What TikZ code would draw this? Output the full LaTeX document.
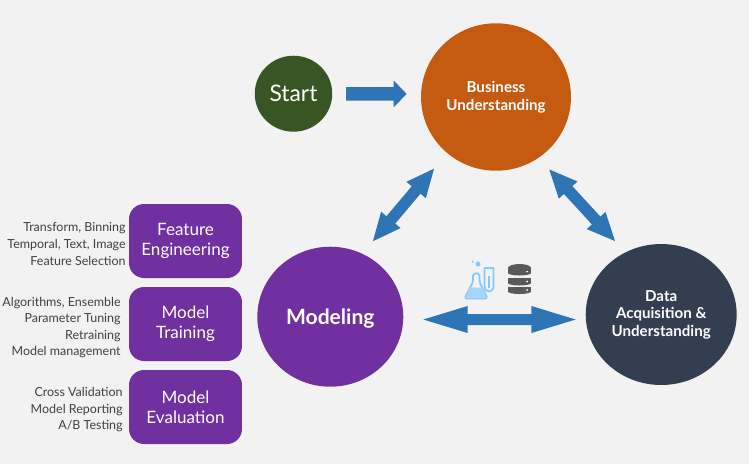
\documentclass[tikz,border=0pt]{standalone}
\usepackage{fontspec}
\setmainfont{Lato}
\usetikzlibrary{arrows.meta,shapes.geometric}
\definecolor{bggrey}{HTML}{F2F2F2}
\definecolor{startgreen}{HTML}{375623}
\definecolor{bizorange}{HTML}{C55A11}
\definecolor{modelpurple}{HTML}{7030A0}
\definecolor{dataslate}{HTML}{333F50}
\definecolor{arrowblue}{HTML}{2E75B6}
\definecolor{flaskblue}{HTML}{85C8FA}
\definecolor{dbgrey}{HTML}{595959}
\definecolor{notegrey}{HTML}{404040}
\tikzset{
  ball/.style={ellipse, inner sep=0pt, text=white, align=center},
  stepbox/.style={rounded corners=0.3cm, fill=modelpurple, minimum width=2.26cm, minimum height=1.48cm, inner sep=0pt, text=white, align=center, font=\fontsize{9.7}{11.3}\selectfont},
  note/.style={anchor=east, inner sep=0pt, align=right, text=notegrey, font=\fontsize{7.1}{9.4}\selectfont},
  flow/.style={arrowblue, line width=0.27cm, -{Triangle[length=0.26cm, width=0.52cm]}},
  both/.style={arrowblue, line width=0.22cm, {Triangle[length=1cm, width=0.46cm]}-{Triangle[length=1cm, width=0.46cm]}},
  slant/.style={arrowblue, line width=0.23cm, {Triangle[length=0.58cm, width=0.46cm]}-{Triangle[length=0.58cm, width=0.46cm]}},
}
\begin{document}
\begin{tikzpicture}[x=0.02cm, y=-0.02cm]
      \fill[bggrey] (0,0) rectangle (749,464);
      \useasboundingbox (0,0) rectangle (749,464);

      \node[ball, fill=startgreen, minimum width=1.55cm, minimum height=1.52cm, font=\fontsize{13}{14}\selectfont] (start) at (293.5,93.7) {Start};
      \node[ball, fill=bizorange, minimum width=3cm, minimum height=2.95cm, font=\bfseries\fontsize{8.6}{10.2}\selectfont] (business) at (496,97) {Business\\Understanding};
      \node[ball, fill=modelpurple, minimum width=2.92cm, minimum height=2.8cm, text depth=0pt, font=\bfseries\fontsize{12}{14}\selectfont] (modeling) at (330.3,316.7) {Modeling};
      \node[ball, fill=dataslate, minimum width=3.02cm, minimum height=2.82cm, font=\bfseries\fontsize{8.6}{9.9}\selectfont] (data) at (661.2,314.5) {Data\\Acquisition \&\\Understanding};

      \node[stepbox] (feature) at (185.5,241) {Feature\\Engineering};
      \node[stepbox] (training) at (185.5,324) {Model\\Training};
      \node[stepbox] (evaluation) at (185.5,407) {Model\\Evaluation};

      \node[note] (featurenote) at (126,244) {Transform, Binning\\Temporal, Text, Image\\Feature Selection};
      \node[note] (trainingnote) at (121,327.5) {Algorithms, Ensemble\\Parameter Tuning\\Retraining\\Model management};
      \node[note] (evaluationnote) at (123,410) {Cross Validation\\Model Reporting\\A/B Testing};

      \draw[flow, shorten <=0.27cm, shorten >=0.28cm] (start.east) -- ([yshift=0.06cm]business.west);
      \draw[slant, shorten <=0.38cm, shorten >=0.3cm] (business.229.3) -- (modeling.63.1);
      \draw[slant, shorten <=0.29cm, shorten >=0.28cm] (business.-55.2) -- (data.120.5);
      \draw[both, shorten <=0.28cm, shorten >=0.08cm] ([yshift=-0.056cm]modeling.east) -- ([yshift=-0.1cm]data.west);

      % flask and tube
      \draw[flaskblue, line width=1pt, line join=round, fill=bggrey] (484.5,268) -- (493.5,268) -- (493.5,287) arc[start angle=0, end angle=-180, radius=0.09cm] -- cycle;
      \fill[flaskblue] (488,276) rectangle (490,288);
      \draw[flaskblue, line width=1pt, line join=round, rounded corners=1pt, fill=bggrey] (473,273.5) -- (479.5,273.5) -- (479.5,282) -- (487.5,298.5) -- (464.5,298.5) -- (473,282) -- cycle;
      \fill[flaskblue!75] (469.5,287.5) -- (483,287.5) -- (486,297.5) -- (466,297.5) -- cycle;
      \fill[flaskblue] (478,264) circle (0.05cm);
      \fill[flaskblue] (472.7,261.7) circle (0.025cm);

      % database
      \foreach \ytop in {286.5,278,268} {
        \fill[dbgrey] (508,\ytop) rectangle (531,\ytop+5);
        \fill[dbgrey] (519.5,\ytop+5) ellipse [x radius=0.23cm, y radius=0.05cm];
        \fill[white] (527,\ytop+3.5) circle (0.02cm);
      }
      \fill[dbgrey] (519.5,268) ellipse [x radius=0.23cm, y radius=0.08cm];
    \end{tikzpicture}
\end{document}
